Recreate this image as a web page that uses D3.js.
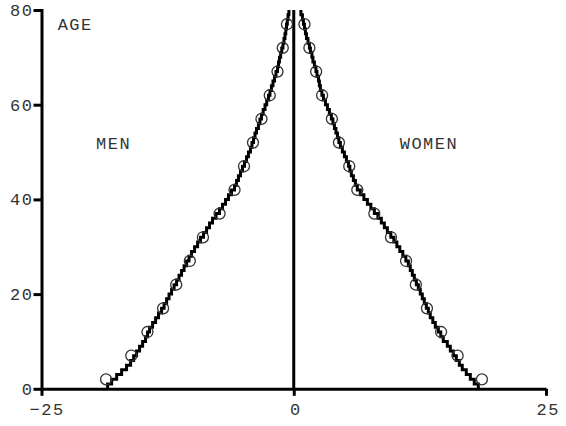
<!DOCTYPE html>
<html>
<head>
<meta charset="utf-8">
<script src="https://cdn.jsdelivr.net/npm/d3@7"></script>
<style>
  body { margin: 0; background: #fff; }
  text { font-family: "Liberation Mono", "Courier New", monospace; font-size: 17px; fill: #333; letter-spacing: 1.5px; }
</style>
</head>
<body>
<div class="pyramid"></div>
<script>
// single-year ages 0..79, percent-like share per age (men negative)
var ages = d3.range(0, 80);
var menByAge = [
  -18.45, -18.05, -17.55, -17.06, -16.57, -16.17, -15.87, -15.58, -15.28, -14.98,
  -14.69, -14.49, -14.29, -13.99, -13.69, -13.40, -13.10, -12.85, -12.60, -12.36,
  -12.11, -11.86, -11.61, -11.37, -11.12, -10.87, -10.62, -10.38, -10.13, -9.83,
  -9.53, -9.24, -8.94, -8.64, -8.35, -8.05, -7.70, -7.36, -7.06, -6.76,
  -6.47, -6.17, -5.87, -5.67, -5.48, -5.28, -5.08, -4.88, -4.68, -4.49,
  -4.29, -4.14, -3.99, -3.84, -3.69, -3.50, -3.35, -3.20, -3.03, -2.85,
  -2.68, -2.50, -2.36, -2.21, -2.06, -1.91, -1.76, -1.61, -1.51, -1.42,
  -1.30, -1.19, -1.07, -0.97, -0.87, -0.79, -0.72, -0.64, -0.57, -0.48
];
var womenByAge = [
  18.29, 17.89, 17.50, 17.10, 16.70, 16.41, 16.11, 15.81, 15.52, 15.22,
  14.82, 14.57, 14.33, 14.03, 13.78, 13.53, 13.34, 13.14, 12.94, 12.74,
  12.54, 12.35, 12.15, 11.95, 11.75, 11.55, 11.36, 11.11, 10.81, 10.51,
  10.22, 9.92, 9.62, 9.28, 8.98, 8.68, 8.34, 7.99, 7.64, 7.30,
  6.95, 6.60, 6.30, 6.11, 5.91, 5.71, 5.56, 5.42, 5.22, 5.02,
  4.82, 4.62, 4.47, 4.33, 4.18, 4.03, 3.88, 3.73, 3.53, 3.34,
  3.14, 2.94, 2.79, 2.64, 2.54, 2.45, 2.30, 2.20, 2.05, 1.90,
  1.80, 1.65, 1.55, 1.41, 1.26, 1.16, 1.06, 0.96, 0.86, 0.71
];

// five-year group midpoints (circles)
var groupAges = [2, 7, 12, 17, 22, 27, 32, 37, 42, 47, 52, 57, 62, 67, 72, 77];
var menByGroup = [-18.6, -16.1, -14.5, -12.95, -11.65, -10.3, -9.0, -7.35, -5.87, -4.93, -4.04, -3.2, -2.38, -1.61, -1.09, -0.67];
var womenByGroup = [18.65, 16.24, 14.6, 13.2, 12.1, 11.13, 9.64, 7.99, 6.3, 5.5, 4.48, 3.78, 2.81, 2.22, 1.55, 1.06];

var xTicks = [-25, 0, 25];
var yTicks = [0, 20, 40, 60, 80];
var labels = ["AGE", "MEN", "WOMEN"];

var width = 566, height = 426;

var svg = d3.select(".pyramid")
    .append("svg")
        .attr("width", width)
        .attr("height", height);

var x = d3.scaleLinear().domain([-25, 25]).range([41.5, 546]);
var y = d3.scaleLinear().domain([0, 80]).range([388.8, 10]);

// X axis
var gx = svg.append("g")
    .attr("transform", "translate(0," + y(0) + ")")
    .call(d3.axisBottom(x).tickValues(xTicks).tickSize(7).tickSizeOuter(0).tickPadding(7));
gx.select(".domain").attr("stroke-width", 3);
gx.selectAll(".tick line").attr("stroke-width", 3);
gx.selectAll(".tick text")
    .attr("font-size", null).attr("font-family", null)
    .attr("dx", function(d) { return d < 0 ? "0.3em" : "0.1em"; });

// Y axis
var gy = svg.append("g")
    .attr("transform", "translate(" + x(-25) + ",0)")
    .call(d3.axisLeft(y).tickValues(yTicks).tickSize(8).tickSizeOuter(0).tickPadding(0));
gy.select(".domain").attr("stroke-width", 3).attr("stroke-linecap", "square");
gy.selectAll(".tick line").attr("stroke-width", 3);
gy.selectAll(".tick text").attr("font-size", null).attr("font-family", null);

// zero line
svg.append("line")
    .attr("x1", x(0)).attr("x2", x(0))
    .attr("y1", y(0)).attr("y2", y(80))
    .attr("stroke", "#000")
    .attr("stroke-width", 3);

// step lines
var step = d3.line()
    .x(function(d) { return x(d[0]); })
    .y(function(d) { return y(d[1]); })
    .curve(d3.curveStepBefore);

[menByAge, womenByAge].forEach(function(series) {
    var pts = ages.map(function(a, i) { return [series[i], a]; });
    pts.push([series[series.length - 1], 80]);
    svg.append("path")
        .attr("fill", "none")
        .attr("stroke", "#000")
        .attr("stroke-width", 3)
        .attr("d", step(pts));
});

// group circles
[menByGroup, womenByGroup].forEach(function(series) {
    svg.append("g").selectAll("circle")
        .data(groupAges)
        .join("circle")
            .attr("cx", function(d, i) { return x(series[i]); })
            .attr("cy", function(d) { return y(d); })
            .attr("r", 5.5)
            .attr("fill", "none")
            .attr("stroke", "#333")
            .attr("stroke-width", 1.3);
});

// labels
var labelPos = [[-23.4, 75.8], [-19.6, 50.6], [10.5, 50.6]];
svg.selectAll(".lbl")
    .data(labels)
    .join("text")
        .attr("class", "lbl")
        .attr("x", function(d, i) { return x(labelPos[i][0]); })
        .attr("y", function(d, i) { return y(labelPos[i][1]); })
        .text(function(d) { return d; });
</script>
</body>
</html>
